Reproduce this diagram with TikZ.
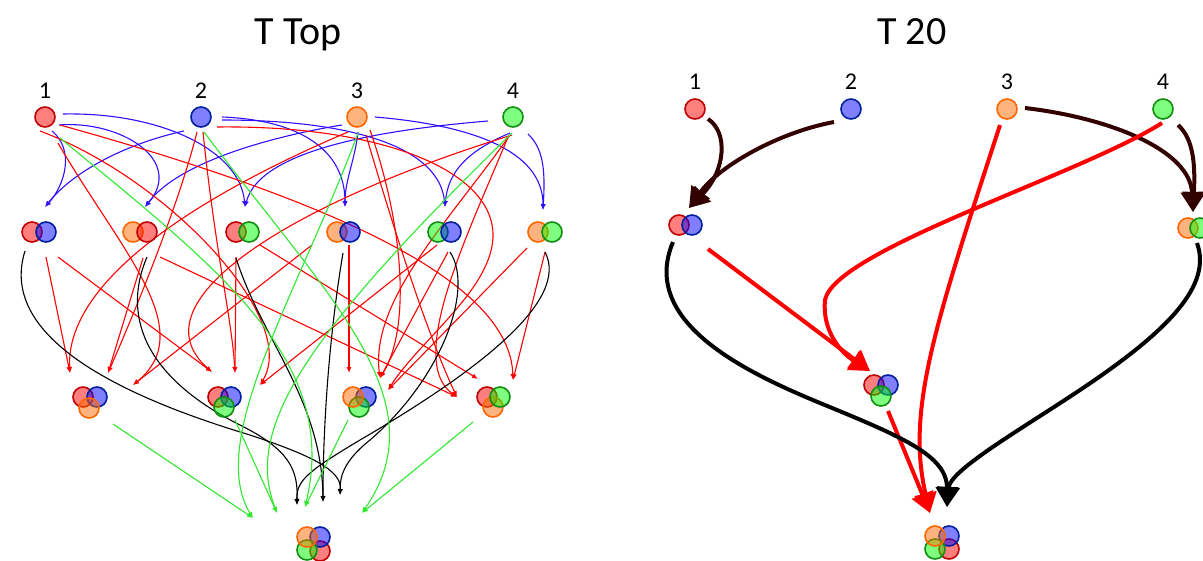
\documentclass[tikz,border=0pt]{standalone}
\usepackage{fontspec}
\setmainfont{Carlito}
\usetikzlibrary{arrows.meta}
\definecolor{rS}{HTML}{C00000}
\definecolor{bS}{HTML}{00209F}
\definecolor{oS}{HTML}{FF6600}
\definecolor{gS}{HTML}{108E10}
\definecolor{rF}{HTML}{FF0000}
\definecolor{bF}{HTML}{0000FF}
\definecolor{oF}{HTML}{FF6A00}
\definecolor{gF}{HTML}{00FF00}
\definecolor{lB}{HTML}{3010FF}
\definecolor{lR}{HTML}{FF0000}
\definecolor{lG}{HTML}{30E830}
\definecolor{dk}{HTML}{330000}
\tikzset{
  dot/.style={circle,minimum size=20pt,inner sep=0pt,line width=1.6pt,fill opacity=0.5},
  Rd/.style={dot,draw=rS,fill=rF},
  Bd/.style={dot,draw=bS,fill=bF},
  Od/.style={dot,draw=oS,fill=oF},
  Gd/.style={dot,draw=gS,fill=gF},
  thin arrow/.style={line width=1.1pt,-{Latex[length=6pt,width=5pt]}},
  blueline/.style={thin arrow,draw=lB},
  redline/.style={thin arrow,draw=lR},
  greenline/.style={thin arrow,draw=lG},
  blackline/.style={thin arrow,draw=black},
  fat arrow/.style={line width=4pt,-{Triangle[length=20pt,width=22pt]}},
  darkfat/.style={fat arrow,draw=dk},
  redfat/.style={fat arrow,draw=lR},
  blackfat/.style={fat arrow,draw=black},
  lbl/.style={anchor=base,font=\fontsize{24}{28}\selectfont,inner sep=0pt},
  ttl/.style={anchor=base,font=\fontsize{40}{48}\selectfont,inner sep=0pt}
}
\begin{document}
\begin{tikzpicture}[x=1pt,y=-1pt]
\useasboundingbox (0,0) rectangle (1203,560);
% ---------- titles and labels ----------
\node[ttl] (titleL) at (298,44) {T Top};
\node[ttl] (titleR) at (912,44) {T 20};
\node[lbl] (n1) at (45,98) {1};
\node[lbl] (n2) at (201,98) {2};
\node[lbl] (n3) at (357,98) {3};
\node[lbl] (n4) at (513,98) {4};
\node[lbl] (m1) at (695,89) {1};
\node[lbl] (m2) at (851,89) {2};
\node[lbl] (m3) at (1007,89) {3};
\node[lbl] (m4) at (1163,89) {4};
% ---------- left panel coordinates ----------
\coordinate (tRB) at (45,207); \coordinate (tOR) at (145,207);
\coordinate (tRG) at (245,207); \coordinate (tOB) at (345,207);
\coordinate (tGB) at (445,207); \coordinate (tOG) at (543,210);
\coordinate (a1) at (52,131); \coordinate (a2) at (184,131);
\coordinate (a3) at (59,125); \coordinate (a4) at (342,125);
\coordinate (a5) at (63,114); \coordinate (a6) at (488,121);
\coordinate (a7) at (222,117); \coordinate (a8) at (358,132);
\coordinate (a9) at (222,120); \coordinate (a10) at (510,133);
\coordinate (a11) at (375,117); \coordinate (a12) at (528,134);
% blue: singles -> pairs
\draw[blueline] (a1) .. controls (75,150) and (65,185) .. (tRB);
\draw[blueline] (a2) .. controls (120,145) and (70,175) .. (tRB);
\draw[blueline] (a3) .. controls (120,120) and (185,160) .. (tOR);
\draw[blueline] (a4) .. controls (280,135) and (180,160) .. (tOR);
\draw[blueline] (a5) .. controls (160,112) and (240,150) .. (tRG);
\draw[blueline] (a6) .. controls (380,130) and (260,150) .. (tRG);
\draw[blueline] (a7) .. controls (300,120) and (345,150) .. (tOB);
\draw[blueline] (a8) .. controls (355,160) and (345,180) .. (tOB);
\draw[blueline] (a9) .. controls (360,120) and (440,150) .. (tGB);
\draw[blueline] (a10) .. controls (470,150) and (448,170) .. (tGB);
\draw[blueline] (a11) .. controls (470,125) and (543,150) .. (tOG);
\draw[blueline] (a12) .. controls (545,150) and (545,175) .. (tOG);
% red: singles and pairs -> triples
\coordinate (tA1) at (70,373); \coordinate (tA2) at (108,373); \coordinate (tA3) at (133,385);
\coordinate (tB1) at (212,372); \coordinate (tB2) at (235,373); \coordinate (tB3) at (260,385);
\coordinate (tC1) at (349,373); \coordinate (tC2) at (380,378); \coordinate (tC3) at (388,390);
\coordinate (tD1) at (457,397); \coordinate (tD2) at (478,379); \coordinate (tD3) at (513,380);
\coordinate (e1) at (46,257); \coordinate (e2) at (348,132); \coordinate (e3) at (197,132);
\coordinate (e4) at (143,258); \coordinate (e5) at (312,245); \coordinate (e6) at (58,143);
\coordinate (e7) at (58,257); \coordinate (e8) at (512,135); \coordinate (e9) at (203,132);
\coordinate (e10) at (236,257); \coordinate (e11) at (40,131); \coordinate (e12) at (437,245);
\coordinate (e13) at (349,245); \coordinate (e14) at (370,130); \coordinate (e15) at (448,252);
\coordinate (e16) at (510,135); \coordinate (e17) at (217,127); \coordinate (e17m) at (493,237);
\coordinate (e18) at (527,248); \coordinate (e19) at (160,257); \coordinate (e20) at (366,135);
\coordinate (e21) at (508,137); \coordinate (e22) at (260,245); \coordinate (e23) at (60,125);
\coordinate (e24) at (545,252);
\draw[redline] (e1) -- (tA1);
\draw[redline] (e2) .. controls (200,195) and (65,280) .. (tA1);
\draw[redline] (e3) .. controls (180,200) and (140,300) .. (tA2);
\draw[redline] (e4) -- (tA2);
\draw[redline] (e5) -- (tA3);
\draw[redline] (e6) .. controls (120,250) and (200,330) .. (tA3);
\draw[redline] (e7) -- (tB1);
\draw[redline] (e8) .. controls (300,200) and (130,300) .. (tB1);
\draw[redline] (e9) .. controls (215,250) and (232,320) .. (tB2);
\draw[redline] (e10) -- (tB2);
\draw[redline] (e11) .. controls (170,180) and (300,320) .. (tB3);
\draw[redline] (e12) -- (tB3);
\draw[redline] (e13) -- (tC1);
\draw[redline] (e14) .. controls (405,230) and (410,330) .. (tC2);
\draw[redline] (e15) -- (tC2);
\draw[redline] (e16) .. controls (450,220) and (370,300) .. (tC2);
\draw[redline] (e17) .. controls (380,125) and (495,170) .. (e17m) .. controls (491,290) and (420,340) .. (tC3);
\draw[redline] (e18) -- (tC3);
\draw[redline] (e19) -- (tD1);
\draw[redline] (e20) .. controls (400,250) and (430,340) .. (tD1);
\draw[redline] (e21) .. controls (470,230) and (405,360) .. (tD1);
\draw[redline] (e22) -- (tD2);
\draw[redline] (e23) .. controls (330,200) and (510,280) .. (tD3);
\draw[redline] (e24) -- (tD3);
% black: pairs -> quad
\coordinate (kA) at (297,505); \coordinate (kB) at (323,502); \coordinate (kC) at (340,495);
\coordinate (k1) at (25,251); \coordinate (k1m) at (250,435);
\coordinate (k2) at (147,257); \coordinate (k2m) at (240,425);
\coordinate (k3) at (236,258); \coordinate (k4) at (343,253);
\coordinate (k5) at (450,252); \coordinate (k5m) at (370,440);
\coordinate (k6) at (545,252); \coordinate (k6m) at (360,440);
\draw[blackline] (k1) .. controls (0,330) and (100,390) .. (k1m) .. controls (310,455) and (342,470) .. (kC);
\draw[blackline] (k2) .. controls (120,320) and (150,380) .. (k2m) .. controls (290,450) and (298,470) .. (kA);
\draw[blackline] (k3) .. controls (262,340) and (322,400) .. (kB);
\draw[blackline] (k4) .. controls (330,330) and (323,420) .. (kB);
\draw[blackline] (k5) .. controls (475,290) and (440,380) .. (k5m) .. controls (345,460) and (340,475) .. (kC);
\draw[blackline] (k6) .. controls (570,300) and (480,370) .. (k6m) .. controls (310,470) and (296,480) .. (kA);
% green: triples and singles -> quad
\coordinate (gA) at (253,518); \coordinate (gB) at (277,513);
\coordinate (gC) at (305,507); \coordinate (gD) at (362,513);
\coordinate (q1) at (113,424); \coordinate (q2) at (235,420);
\coordinate (q3) at (348,420); \coordinate (q4) at (473,422);
\coordinate (q5) at (60,138); \coordinate (q6) at (204,132);
\coordinate (q7) at (358,133); \coordinate (q8) at (512,133);
\draw[greenline] (q1) -- (gA);
\draw[greenline] (q2) -- (gB);
\draw[greenline] (q3) -- (gC);
\draw[greenline] (q4) -- (gD);
\draw[greenline] (q5) .. controls (220,270) and (340,360) .. (gC);
\draw[greenline] (q6) .. controls (330,300) and (440,400) .. (gD);
\draw[greenline] (q7) .. controls (300,290) and (205,440) .. (gA);
\draw[greenline] (q8) .. controls (300,340) and (245,430) .. (gB);
% ---------- left panel circles ----------
\node[Rd] (L1) at (45,117) {};
\node[Bd] (L2) at (201,117) {};
\node[Od] (L3) at (357,117) {};
\node[Gd] (L4) at (513,117) {};
\node[Rd] (LrbR) at (32,232) {}; \node[Bd] (LrbB) at (46,232) {};
\node[Od] (LorO) at (133,232) {}; \node[Rd] (LorR) at (147,232) {};
\node[Rd] (LrgR) at (236,232) {}; \node[Gd] (LrgG) at (249,232) {};
\node[Od] (LobO) at (337,232) {}; \node[Bd] (LobB) at (350,232) {};
\node[Gd] (LgbG) at (438,232) {}; \node[Bd] (LgbB) at (451,232) {};
\node[Od] (LogO) at (538,232) {}; \node[Gd] (LogG) at (552,232) {};
\node[Rd] (T1R) at (83,397) {}; \node[Bd] (T1B) at (97,397) {}; \node[Od] (T1O) at (89,408) {};
\node[Rd] (T2R) at (218,397) {}; \node[Bd] (T2B) at (231,397) {}; \node[Gd] (T2G) at (224,407) {};
\node[Bd] (T3B) at (366,397) {}; \node[Gd] (T3G) at (359,407) {}; \node[Od] (T3O) at (353,397) {};
\node[Rd] (T4R) at (487,397) {}; \node[Od] (T4O) at (493,407) {}; \node[Gd] (T4G) at (500,397) {};
\node[Rd] (QR) at (320,551) {}; \node[Bd] (QB) at (320,537) {};
\node[Gd] (QG) at (307,550) {}; \node[Od] (QO) at (307,537) {};
% ---------- right panel ----------
\coordinate (uRB) at (689,208); \coordinate (uOG) at (1193,212);
\coordinate (uT) at (870,371); \coordinate (uQr) at (930,513); \coordinate (uQk) at (947,507);
\coordinate (v1) at (708,119); \coordinate (v2) at (834,122);
\coordinate (v3) at (1025,108); \coordinate (v4) at (1178,125);
\coordinate (w1) at (708,249); \coordinate (w2) at (1162,123); \coordinate (w2m) at (825,300);
\coordinate (w3) at (1000,125); \coordinate (w4) at (888,411);
\coordinate (z1) at (673,242); \coordinate (z1m) at (820,403);
\coordinate (z2) at (1197,243); \coordinate (z2m) at (1080,390);
\draw[darkfat] (v1) .. controls (728,132) and (726,170) .. (uRB);
\draw[darkfat] (v2) .. controls (780,132) and (720,165) .. (uRB);
\draw[darkfat] (v3) .. controls (1110,118) and (1190,150) .. (uOG);
\draw[darkfat] (v4) .. controls (1195,140) and (1195,170) .. (uOG);
\draw[redfat] (w1) -- (uT);
\draw[redfat] (w2) .. controls (1080,175) and (835,250) .. (w2m) .. controls (822,330) and (840,352) .. (uT);
\draw[redfat] (w3) .. controls (935,325) and (906,410) .. (uQr);
\draw[redfat] (w4) -- (uQr);
\draw[blackfat] (z1) .. controls (640,320) and (740,370) .. (z1m) .. controls (900,436) and (947,455) .. (uQk);
\draw[blackfat] (z2) .. controls (1212,285) and (1170,330) .. (z2m) .. controls (1020,430) and (950,470) .. (uQk);
\node[Rd] (R1) at (695,109) {};
\node[Bd] (R2) at (851,109) {};
\node[Od] (R3) at (1007,109) {};
\node[Gd] (R4) at (1163,109) {};
\node[Rd] (RrbR) at (679,225) {}; \node[Bd] (RrbB) at (692,225) {};
\node[Od] (RogO) at (1188,228) {}; \node[Gd] (RogG) at (1200,228) {};
\node[Rd] (RtR) at (874,385) {}; \node[Bd] (RtB) at (888,385) {}; \node[Gd] (RtG) at (881,396) {};
\node[Rd] (RqR) at (949,549) {}; \node[Bd] (RqB) at (949,536) {};
\node[Gd] (RqG) at (935,549) {}; \node[Od] (RqO) at (935,536) {};
\end{tikzpicture}
\end{document}
